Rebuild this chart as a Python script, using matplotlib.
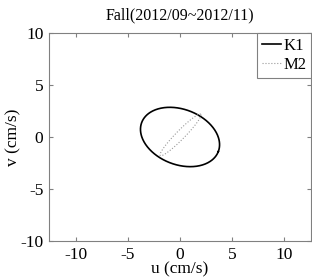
import numpy as np
import matplotlib.pyplot as plt

plt.rcParams['font.family'] = ['Liberation Serif', 'DejaVu Serif']
plt.rcParams['axes.unicode_minus'] = False

# tidal ellipse parameters (cm/s, degrees)
constituents = ['K1', 'M2']
major = [3.94, 2.78]
minor = [2.66, 0.42]
incl = [-20.8, 45.5]
center_u = [0.0, 0.05]
center_v = [0.0, 0.2]
styles = [dict(color='black', lw=1.2, ls='-'),
          dict(color='#999999', lw=0.8, ls=':')]

fig = plt.figure(figsize=(3.12, 2.79), dpi=100)
ax = fig.add_axes([0.157, 0.136, 0.84, 0.746])

phase = np.linspace(0, 2 * np.pi, 361)
for name, a, b, th, cu, cv, st in zip(constituents, major, minor, incl,
                                       center_u, center_v, styles):
    t = np.deg2rad(th)
    u = cu + a * np.cos(t) * np.cos(phase) - b * np.sin(t) * np.sin(phase)
    v = cv + a * np.sin(t) * np.cos(phase) + b * np.cos(t) * np.sin(phase)
    ax.plot(u, v, label=name, **st)

ax.set_xlim(-12.6, 12.6)
ax.set_ylim(-10, 10)
ax.set_aspect('equal')
ax.set_xticks([-10, -5, 0, 5, 10])
ax.set_yticks([-10, -5, 0, 5, 10])
ax.tick_params(direction='in', top=True, right=True, labelsize=12.5, length=3,
               color='#808080', pad=4)
for s in ax.spines.values():
    s.set_color('#808080')
    s.set_linewidth(0.8)

ax.set_xlabel('u (cm/s)', fontsize=12.5, labelpad=-1)
ax.set_ylabel('v (cm/s)', fontsize=12.5, labelpad=-1)
ax.set_title('Fall(2012/09~2012/11)', fontsize=11.5, pad=10)

leg = ax.legend(loc='upper right', fontsize=12, handlelength=1.1,
                handletextpad=0.15, borderaxespad=0, fancybox=False,
                framealpha=1, borderpad=0.3, labelspacing=0.2)
leg.get_frame().set_edgecolor('#808080')
leg.get_frame().set_linewidth(0.8)

plt.savefig('out.png', dpi=100)
